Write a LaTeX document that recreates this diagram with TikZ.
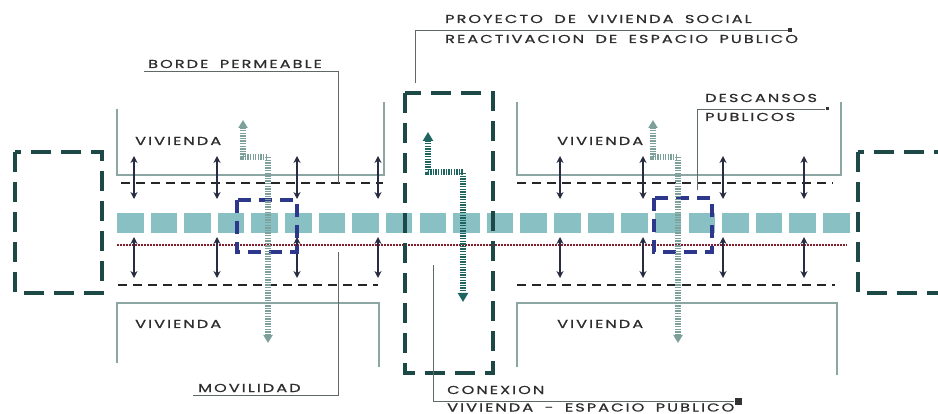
\documentclass[tikz,border=0pt]{standalone}
\usepackage{fontspec}
\setmainfont{Poppins}[LetterSpace=18, WordSpace=1.8, FakeBold=0.8, FakeStretch=1.4]
\usepackage{tikz}
\usetikzlibrary{arrows.meta,positioning}
\definecolor{zoneteal}{RGB}{28,72,70}
\definecolor{barteal}{RGB}{137,192,196}
\definecolor{wallgray}{RGB}{139,166,163}
\definecolor{arrownavy}{RGB}{40,44,66}
\definecolor{streetred}{RGB}{130,30,45}
\definecolor{focusblue}{RGB}{45,55,140}
\definecolor{flowgray}{RGB}{125,160,155}
\definecolor{flowteal}{RGB}{30,100,95}
\definecolor{leadergray}{RGB}{95,105,105}
\definecolor{textgray}{RGB}{45,45,45}

\begin{document}
\begin{tikzpicture}[x=1pt, y=-1pt,
    lbl/.style={font=\fontsize{11.5}{13}\selectfont, text=textgray, inner sep=0pt, anchor=base west},
    wall/.style={draw=wallgray, line width=1.6pt},
    edgeline/.style={draw=black!85, line width=2.5pt, dash pattern=on 9pt off 6pt},
    link/.style={{Stealth[length=7pt,width=7pt]}-{Stealth[length=7pt,width=7pt]}, draw=arrownavy, line width=1.6pt},
    zone/.style={draw=zoneteal, line width=4pt, dash pattern=on 20pt off 10pt},
    focus/.style={draw=focusblue, line width=3.2pt, dash pattern=on 13pt off 8pt},
    flow/.style={line width=5.5pt, dash pattern=on 1.3pt off 1.3pt},
    leader/.style={draw=leadergray, line width=0.9pt},
    marker/.style={fill=black!80, minimum size=4pt, inner sep=0pt}
]
    \clip (0,0) rectangle (938,414);

    % corredor central
    \foreach \i in {0,...,21}
        \fill[barteal] ({117+33.62*\i},213) rectangle ++(26.5,20);
    \draw[streetred, line width=2.8pt, dash pattern=on 1.6pt off 1.4pt] (117,245) -- (847,245);

    % bordes de vivienda
    \draw[wall] (117,109) -- (117,175) -- (384,175) -- (384,102);
    \draw[wall] (517,102) -- (517,175) -- (841,175) -- (841,102);
    \draw[wall] (117,363) -- (117,303) -- (379,303) -- (379,367);
    \draw[wall] (517,367) -- (517,303) -- (837,303) -- (837,375);
    \draw[edgeline] (121,183) -- (383,183);
    \draw[edgeline] (517,183) -- (833,183);
    \draw[edgeline] (118,285) -- (378,285);
    \draw[edgeline] (517,285) -- (835,285);

    \node[lbl] (viv1) at (135,145) {VIVIENDA};
    \node[lbl] (viv2) at (557,145) {VIVIENDA};
    \node[lbl] (viv3) at (135,328) {VIVIENDA};
    \node[lbl] (viv4) at (557,328) {VIVIENDA};

    % conexiones
    \foreach \x [count=\i] in {134,217,297,378,560,643,723,804} {
        \coordinate (a\i) at (\x,156);
        \coordinate (b\i) at (\x,199);
        \coordinate (c\i) at (\x,237);
        \coordinate (d\i) at (\x,278);
        \draw[link] (a\i) -- (b\i);
        \draw[link] (c\i) -- (d\i);
    }

    % zonas
    \draw[zone] (15,152) rectangle (102,293);
    \draw[zone] (405,93) rectangle (493,373);
    \draw[zone] (858,152) rectangle (960,293);
    \draw[focus] (237,200) rectangle (297,252);
    \draw[focus] (654,198) rectangle (712,252);

    % movilidad
    \coordinate (ftop1) at (243,120);
    \coordinate (fturn1) at (268,157);
    \coordinate (fbot1) at (268,343);
    \coordinate (ftop2) at (653,120);
    \coordinate (fturn2) at (678,157);
    \coordinate (fbot2) at (678,343);
    \coordinate (ftop3) at (428,132);
    \coordinate (fturn3) at (463,172);
    \coordinate (fbot3) at (463,302);
    \draw[flow, draw=flowgray, {Triangle[length=8pt,width=9pt]}-{Triangle[length=8pt,width=9pt]}] (ftop1) |- (fturn1) -- (fbot1);
    \draw[flow, draw=flowgray, {Triangle[length=8pt,width=9pt]}-{Triangle[length=8pt,width=9pt]}] (ftop2) |- (fturn2) -- (fbot2);
    \draw[flow, draw=flowteal, {Triangle[length=9pt,width=10pt]}-{Triangle[length=9pt,width=10pt]}] (ftop3) |- (fturn3) -- (fbot3);

    % rotulos
    \node[lbl] (borde) at (148,68) {BORDE PERMEABLE};
    \coordinate (bordeA) at (144,71);
    \coordinate (bordeB) at (338,183);
    \draw[leader] (bordeA) -| (bordeB);

    \node[lbl] (proyecto) at (445,23) {PROYECTO DE VIVIENDA SOCIAL};
    \node[lbl] (reactiva) at (445,43) {REACTIVACION DE ESPACIO PUBLICO};
    \node[marker] (m1) at (790,30) {};
    \coordinate (proyA) at (415,83);
    \draw[leader] (proyA) |- (m1);

    \node[lbl] (descansos) at (705,102) {DESCANSOS};
    \node[lbl] (publicos) at (705,121) {PUBLICOS};
    \node[marker, minimum size=3pt] (m2) at (827,109) {};
    \coordinate (descA) at (697,190);
    \draw[leader] (descA) |- (m2);

    \node[lbl] (movilidad) at (198,392) {MOVILIDAD};
    \coordinate (movA) at (193,395);
    \coordinate (movB) at (338,252);
    \draw[leader] (movA) -| (movB);

    \node[lbl] (conexion) at (447,394) {CONEXION};
    \node[lbl] (vivesp) at (447,411.5) {VIVIENDA - ESPACIO PUBLICO};
    \node[marker, minimum size=7pt] (m3) at (738,401) {};
    \coordinate (conA) at (433,265);
    \draw[leader] (conA) |- (m3);
\end{tikzpicture}
\end{document}
